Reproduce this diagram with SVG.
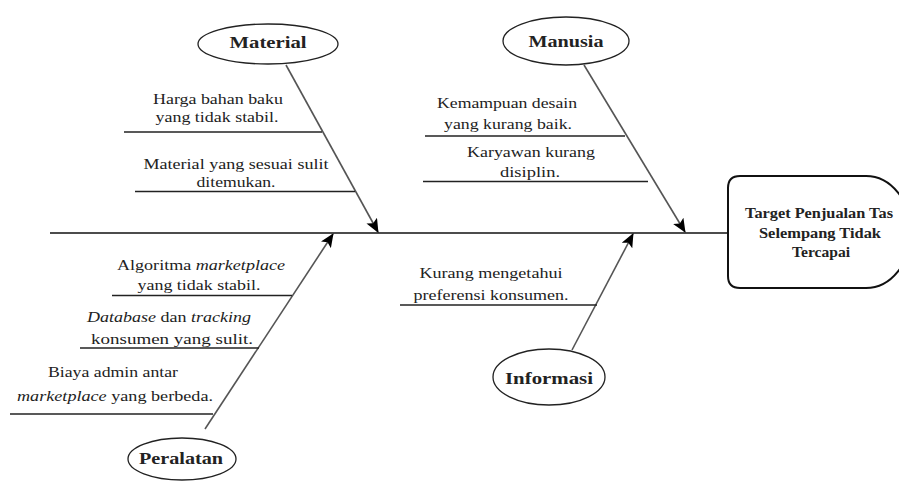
<svg xmlns="http://www.w3.org/2000/svg" width="899" height="482" viewBox="0 0 899 482">
<defs>
<marker id="ah" markerUnits="userSpaceOnUse" markerWidth="14" markerHeight="12" viewBox="0 0 14 12" refX="13" refY="6" orient="auto">
<path d="M0,0 L14,6 L0,12 L3,6 Z" fill="#000"/>
</marker>
</defs>
<style>
text{font-family:'Liberation Serif','Tinos','Noto Serif','DejaVu Serif','FreeSerif',Times,serif;fill:#222;text-anchor:middle}
.t{font-size:15px;font-weight:normal}
.b{font-size:17px;font-weight:bold}
.bx{font-size:15px;font-weight:bold}
.i{font-style:italic}
.ul{stroke:#222;stroke-width:1.3;fill:none}
.ar{stroke:#555;stroke-width:1.6;fill:none;marker-end:url(#ah)}
.el{fill:#fff;stroke:#222;stroke-width:1.3}
</style>
<rect width="899" height="482" fill="#fff"/>
<g id="connectors">
<line x1="50" y1="233" x2="728" y2="233" stroke="#111" stroke-width="1.6"/>
<line class="ar" x1="286" y1="65" x2="378" y2="232"/>
<line class="ar" x1="584" y1="65" x2="685" y2="232"/>
<line class="ar" x1="205" y1="429" x2="333" y2="234"/>
<line class="ar" x1="572" y1="350" x2="633" y2="234"/>
<line class="ul" x1="124" y1="132" x2="322" y2="132"/>
<line class="ul" x1="135" y1="191.5" x2="355" y2="191.5"/>
<line class="ul" x1="425" y1="136" x2="625" y2="136"/>
<line class="ul" x1="423" y1="181.5" x2="648" y2="181.5"/>
<line class="ul" x1="112" y1="295.5" x2="292" y2="295.5"/>
<line class="ul" x1="80" y1="348" x2="259" y2="348"/>
<line class="ul" x1="10" y1="414" x2="213" y2="414"/>
<line class="ul" x1="400" y1="305" x2="597" y2="305"/>
</g>
<g id="material">
<ellipse class="el" cx="268" cy="44" rx="70" ry="20"/>
<text class="b" x="268" y="48" textLength="77" lengthAdjust="spacingAndGlyphs">Material</text>
</g>
<g id="material-causes">
<text class="t" x="218" y="103.5" textLength="130" lengthAdjust="spacingAndGlyphs">Harga bahan baku</text>
<text class="t" x="217" y="121.5" textLength="123" lengthAdjust="spacingAndGlyphs">yang tidak stabil.</text>
<text class="t" x="236" y="168.5" textLength="185" lengthAdjust="spacingAndGlyphs">Material yang sesuai sulit</text>
<text class="t" x="236" y="187" textLength="79" lengthAdjust="spacingAndGlyphs">ditemukan.</text>
</g>
<g id="manusia">
<ellipse class="el" cx="566" cy="41" rx="63" ry="24"/>
<text class="b" x="566" y="47" textLength="75" lengthAdjust="spacingAndGlyphs">Manusia</text>
</g>
<g id="manusia-causes">
<text class="t" x="507" y="107.5" textLength="140" lengthAdjust="spacingAndGlyphs">Kemampuan desain</text>
<text class="t" x="508" y="128.5" textLength="128" lengthAdjust="spacingAndGlyphs">yang kurang baik.</text>
<text class="t" x="531" y="157" textLength="128" lengthAdjust="spacingAndGlyphs">Karyawan kurang</text>
<text class="t" x="530" y="176.5" textLength="60" lengthAdjust="spacingAndGlyphs">disiplin.</text>
</g>
<g id="peralatan">
<ellipse class="el" cx="182" cy="459" rx="54" ry="21"/>
<text class="b" x="181" y="464" textLength="84" lengthAdjust="spacingAndGlyphs">Peralatan</text>
</g>
<g id="peralatan-causes">
<text class="t" x="201" y="270" textLength="168" lengthAdjust="spacingAndGlyphs">Algoritma <tspan class="i">marketplace</tspan></text>
<text class="t" x="199" y="290" textLength="123" lengthAdjust="spacingAndGlyphs">yang tidak stabil.</text>
<text class="t" x="169" y="321.5" textLength="164" lengthAdjust="spacingAndGlyphs"><tspan class="i">Database</tspan> dan <tspan class="i">tracking</tspan></text>
<text class="t" x="172" y="344" textLength="162" lengthAdjust="spacingAndGlyphs">konsumen yang sulit.</text>
<text class="t" x="113" y="377" textLength="130" lengthAdjust="spacingAndGlyphs">Biaya admin antar</text>
<text class="t" x="115" y="401" textLength="196" lengthAdjust="spacingAndGlyphs"><tspan class="i">marketplace</tspan> yang berbeda.</text>
</g>
<g id="informasi">
<ellipse class="el" cx="549" cy="377" rx="56" ry="28"/>
<text class="b" x="549" y="383.5" textLength="88" lengthAdjust="spacingAndGlyphs">Informasi</text>
</g>
<g id="informasi-causes">
<text class="t" x="491" y="277.5" textLength="143" lengthAdjust="spacingAndGlyphs">Kurang mengetahui</text>
<text class="t" x="491" y="300" textLength="155" lengthAdjust="spacingAndGlyphs">preferensi konsumen.</text>
</g>
<g id="target">
<path d="M740,176 H866 A45,56 0 0 1 866,288 H740 Q728,288 728,276 V188 Q728,176 740,176 Z" fill="#fff" stroke="#111" stroke-width="2"/>
<text class="bx" x="819" y="217.5" textLength="148" lengthAdjust="spacingAndGlyphs">Target Penjualan Tas</text>
<text class="bx" x="820" y="237.5" textLength="122" lengthAdjust="spacingAndGlyphs">Selempang Tidak</text>
<text class="bx" x="821" y="257" textLength="58" lengthAdjust="spacingAndGlyphs">Tercapai</text>
</g>
</svg>
